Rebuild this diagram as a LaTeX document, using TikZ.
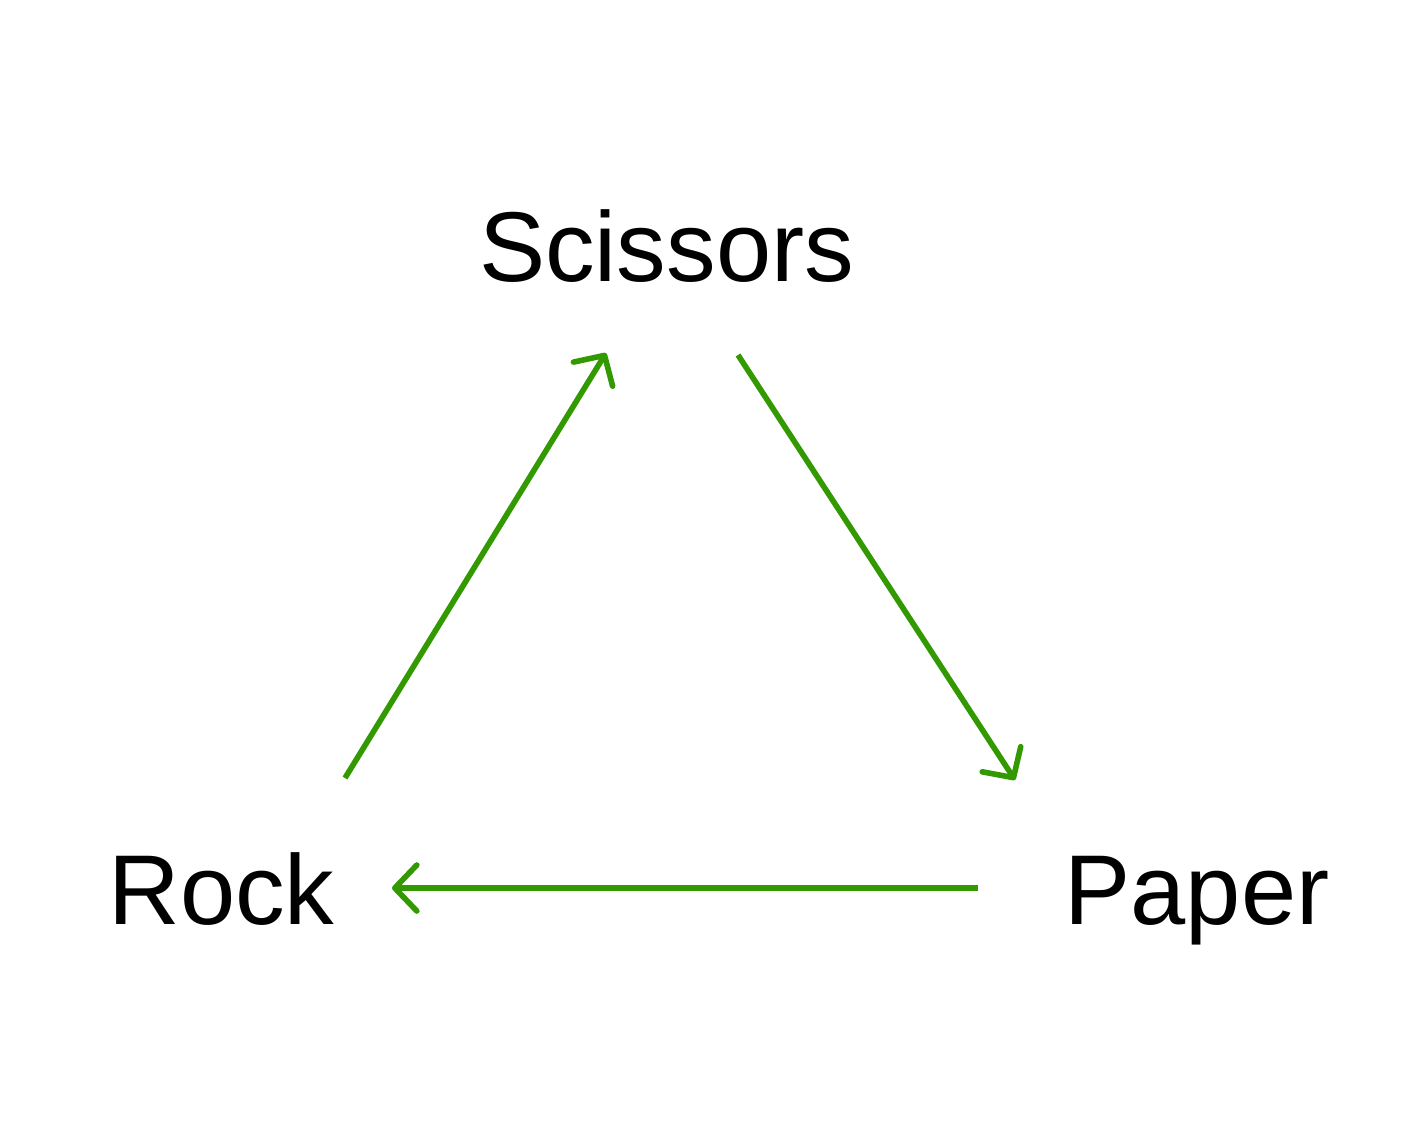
\documentclass[tikz,border=0pt]{standalone}
\usepackage{fontspec}
\setmainfont{Liberation Sans}
\usetikzlibrary{arrows.meta}
\definecolor{arrowgreen}{HTML}{339900}
\begin{document}
\begin{tikzpicture}[x=0.5pt,y=-0.5pt,
  label/.style={anchor=base,inner sep=0pt,font=\fontsize{49.6}{59}\selectfont},
  link/.style={draw=arrowgreen,line width=2.8pt,
    -{Straight Barb[length=11pt,width=23pt,line cap=round,line join=round]}}]
\useasboundingbox (0,0) rectangle (1416,1136);
\fill[white] (0,0) rectangle (1416,1136);
\node[label] (sc) at (666.5,281) {Scissors};
\node[label] (rk) at (221.5,924) {Rock};
\node[label] (pp) at (1197,924) {Paper};
\coordinate (rkout) at (345,778);
\coordinate (scin) at (606,353);
\coordinate (scout) at (738,355);
\coordinate (ppin) at (1015,780);
\coordinate (ppout) at (978,888);
\coordinate (rkin) at (392,888);
\draw[link] (rkout) -- (scin);
\draw[link] (scout) -- (ppin);
\draw[link] (ppout) -- (rkin);
\end{tikzpicture}
\end{document}
